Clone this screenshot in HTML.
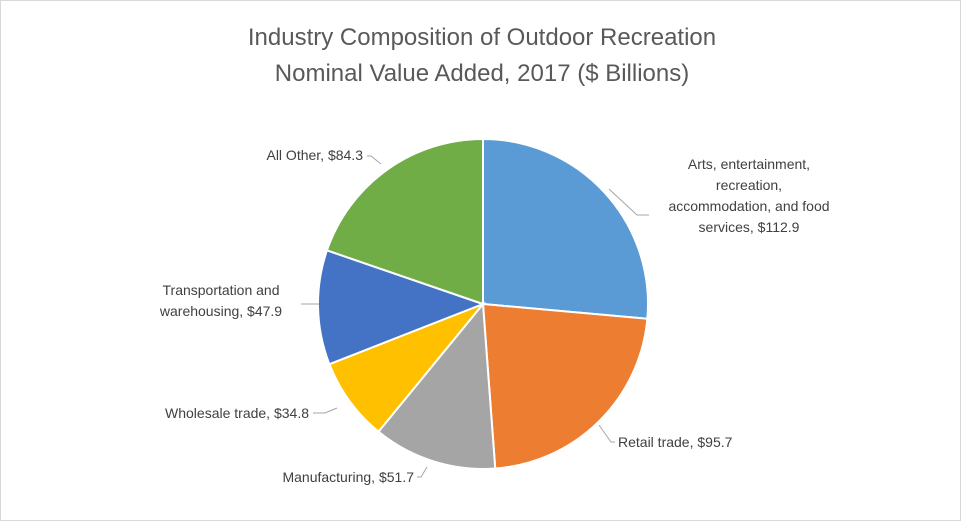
<!DOCTYPE html>
<html><head><meta charset="utf-8"><style>
body{margin:0;background:#fff;}
#wrap{position:relative;width:959px;height:519px;border:1px solid #d9d9d9;overflow:hidden;}
svg text{font-family:"Liberation Sans",sans-serif;}
</style></head><body>
<div id="wrap">
<svg id="chart" width="961" height="521">
<text x="481" y="44" text-anchor="middle" font-size="24" fill="#595959">Industry Composition of Outdoor Recreation</text>
<text x="481" y="80" text-anchor="middle" font-size="24" fill="#595959">Nominal Value Added, 2017 ($ Billions)</text>
</svg>
</div>
<script>
const categories=["Arts, entertainment, recreation, accommodation, and food services","Retail trade","Manufacturing","Wholesale trade","Transportation and warehousing","All Other"];
const values=[112.9,95.7,51.7,34.8,47.9,84.3];
const labels=["$112.9","$95.7","$51.7","$34.8","$47.9","$84.3"];
const colors=["#5b9bd5","#ed7d31","#a5a5a5","#ffc000","#4472c4","#70ad47"];
const svg=document.getElementById('chart');
const NS="http://www.w3.org/2000/svg";
const cx=482,cy=303,r=165;
const total=values.reduce((a,b)=>a+b,0);
function pt(a,rr){return [cx+rr*Math.sin(a),cy-rr*Math.cos(a)];}
let a0=0;
const mids=[];
values.forEach((v,i)=>{
  const a1=a0+v/total*2*Math.PI;
  const p0=pt(a0,r),p1=pt(a1,r);
  const large=(a1-a0)>Math.PI?1:0;
  const p=document.createElementNS(NS,'path');
  p.setAttribute('d',`M${cx},${cy}L${p0[0]},${p0[1]}A${r},${r} 0 ${large} 1 ${p1[0]},${p1[1]}Z`);
  p.setAttribute('fill',colors[i]);p.setAttribute('stroke','#fff');p.setAttribute('stroke-width','2');
  
  
  svg.appendChild(p);
  mids.push((a0+a1)/2);
  a0=a1;
});
// label layouts: lines of text, anchor, position
const layouts=[
 {lines:["Arts, entertainment,","recreation,","accommodation, and food","services, "+labels[0]],x:748,y:168,anchor:"middle",lx:[608,636,648],ly:[188,214,214]},
 {lines:["Retail trade, "+labels[1]],x:617,y:446,anchor:"start",lx:[598,610,614],ly:[424,441,441]},
 {lines:["Manufacturing, "+labels[2]],x:413,y:481,anchor:"end",lx:[426,420,416],ly:[466,476,476]},
 {lines:["Wholesale trade, "+labels[3]],x:308,y:417,anchor:"end",lx:[336,324,312],ly:[407,412,412]},
 {lines:["Transportation and","warehousing, "+labels[4]],x:220,y:294,anchor:"middle",lx:[318,306,300],ly:[303,303,303]},
 {lines:["All Other, "+labels[5]],x:362,y:159,anchor:"end",lx:[380,370,366],ly:[163,155,155]}
];
layouts.forEach((L,i)=>{
  const pl=document.createElementNS(NS,'polyline');
  pl.setAttribute('points',L.lx.map((x,k)=>x+','+L.ly[k]).join(' '));
  pl.setAttribute('fill','none');pl.setAttribute('stroke','#a6a6a6');pl.setAttribute('stroke-width','1');
  
  
  svg.appendChild(pl);
  L.lines.forEach((s,k)=>{
    const t=document.createElementNS(NS,'text');
    t.setAttribute('x',L.x);t.setAttribute('y',L.y+k*21);
    t.setAttribute('text-anchor',L.anchor);t.setAttribute('font-size','14');t.setAttribute('fill','#404040');
    t.textContent=s;
    
    
    svg.appendChild(t);
  });
});
</script>
</body></html>
